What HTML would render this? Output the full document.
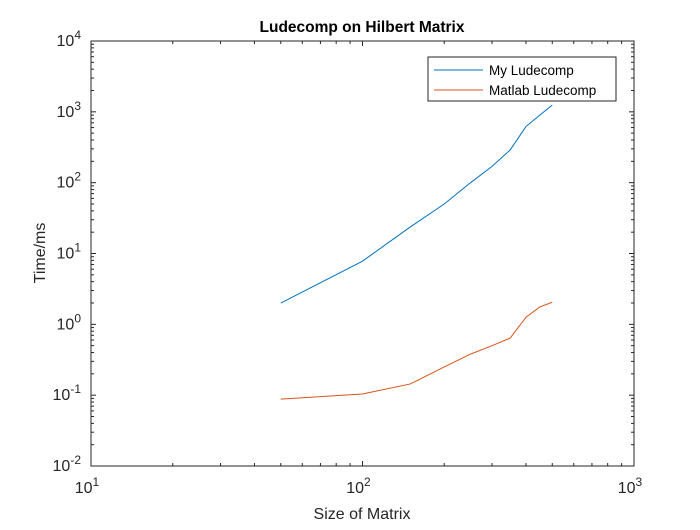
<!DOCTYPE html>
<html><head><meta charset="utf-8"><style>
body{margin:0;background:#fff;width:700px;height:525px;overflow:hidden}
svg{font-family:"Liberation Sans",sans-serif}
</style></head><body>
<svg id="chart" width="700" height="525" xmlns="http://www.w3.org/2000/svg"></svg>
<script>
const sizes=[50,100,150,200,250,300,350,400,450,500];
const myTimes=[2.0,7.8,23.7,50,100,170,290,620,900,1250];
const matlabTimes=[0.088,0.104,0.144,0.25,0.38,0.5,0.64,1.26,1.76,2.05];
const xTickExps=[1,2,3];
const yTickExps=[-2,-1,0,1,2,3,4];
const L=91,R=634,T=41,B=466;
const xs=v=>L+(Math.log10(v)-1)/2*(R-L);
const ys=v=>B-(Math.log10(v)+2)/6*(B-T);
const svg=document.getElementById('chart');
const NS='http://www.w3.org/2000/svg';
function mk(tag,attrs,parent){const e=document.createElementNS(NS,tag);for(const k in attrs)e.setAttribute(k,attrs[k]);(parent||svg).appendChild(e);return e;}
const box=mk('rect',{x:L,y:T,width:R-L,height:B-T,fill:'#fff',stroke:'#262626','stroke-width':1});


xTickExps.forEach(e=>{const x=xs(Math.pow(10,e));
 mk('line',{x1:x,x2:x,y1:B,y2:B-5,stroke:'#262626'});mk('line',{x1:x,x2:x,y1:T,y2:T+5,stroke:'#262626'});
 const t=mk('text',{x:x-4,y:493,'font-size':16,fill:'#262626','text-anchor':'middle'});t.innerHTML='10<tspan dy="-7" font-size="12">'+e+'</tspan>';
 
 
 if(e<3)for(let m=2;m<10;m++){const xm=xs(m*Math.pow(10,e));mk('line',{x1:xm,x2:xm,y1:B,y2:B-3,stroke:'#262626'});mk('line',{x1:xm,x2:xm,y1:T,y2:T+3,stroke:'#262626'});}
});
yTickExps.forEach(e=>{const y=ys(Math.pow(10,e));
 mk('line',{x1:L,x2:L+5,y1:y,y2:y,stroke:'#262626'});mk('line',{x1:R,x2:R-5,y1:y,y2:y,stroke:'#262626'});
 const t=mk('text',{x:81,y:y+5,'font-size':16,fill:'#262626','text-anchor':'end'});t.innerHTML='10<tspan dy="-7" font-size="12">'+e+'</tspan>';
 
 
 if(e<4)for(let m=2;m<10;m++){const ym=ys(m*Math.pow(10,e));mk('line',{x1:L,x2:L+3,y1:ym,y2:ym,stroke:'#262626'});mk('line',{x1:R,x2:R-3,y1:ym,y2:ym,stroke:'#262626'});}
});
function series(vals,color,name){const p=mk('polyline',{points:sizes.map((s,i)=>xs(s)+','+ys(vals[i])).join(' '),fill:'none',stroke:color,'stroke-width':1});
 
 }
series(myTimes,'#0072bd','my-ludecomp-line');
series(matlabTimes,'#d95319','matlab-ludecomp-line');
const title=mk('text',{x:362,y:32,'font-size':15.5,'font-weight':'bold','text-anchor':'middle',fill:'#000'});title.textContent='Ludecomp on Hilbert Matrix';


const xl=mk('text',{x:362,y:519,'font-size':16,'text-anchor':'middle',fill:'#262626'});xl.textContent='Size of Matrix';


const yl=mk('text',{x:0,y:0,'font-size':16,'text-anchor':'middle',fill:'#262626',transform:'translate(45,253) rotate(-90)'});yl.textContent='Time/ms';


const lg=mk('g',{});


mk('rect',{x:428,y:57,width:188,height:44,fill:'#fff',stroke:'#262626'},lg);
[['My Ludecomp','#0072bd',70],['Matlab Ludecomp','#d95319',90]].forEach(([n,c,y])=>{
 mk('line',{x1:434,x2:483,y1:y,y2:y,stroke:c},lg);
 const t=mk('text',{x:489,y:y+5,'font-size':13.5,fill:'#000'},lg);t.textContent=n;
 
 
});
</script>
</body></html>
